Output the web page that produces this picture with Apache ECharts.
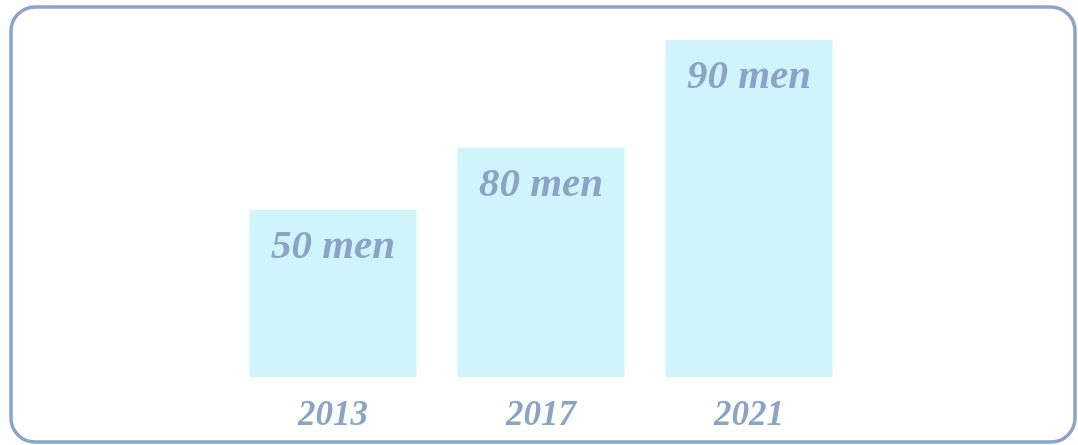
<!DOCTYPE html>
<html>
<head>
<meta charset="utf-8">
<script src="https://cdn.jsdelivr.net/npm/echarts@6/dist/echarts.min.js"></script>
<style>
  html, body { margin: 0; padding: 0; background: #fff; }
  #chart { width: 1078px; height: 445px; }
</style>
</head>
<body>
<div id="chart"></div>
<script>
// data
const years = ['2013', '2017', '2021'];
const barHeights = [44.6, 61.2, 90];   // bar lengths as drawn
const menCount = [50, 80, 90];         // numbers written on the bars

const ink = '#8aa4c8';
const font = 'Liberation Serif';

let myChart = echarts.init(document.getElementById('chart'));
myChart.setOption({
  animation: false,
  grid: { left: 229, right: 225, top: 2.6, bottom: 68 },
  xAxis: {
    type: 'category',
    data: years,
    axisLine: { show: false },
    axisTick: { show: false },
    axisLabel: {
      margin: 21,
      color: ink,
      fontSize: 35,
      fontWeight: 'bold',
      fontStyle: 'italic',
      fontFamily: font
    }
  },
  yAxis: {
    type: 'value',
    min: 0,
    max: 100,
    show: false,
    splitLine: { show: false }
  },
  graphic: [
    {
      // frame round the chart
      type: 'rect',
      shape: { x: 11, y: 7, width: 1064, height: 435, r: 24 },
      style: { fill: null, stroke: '#8aa4cc', lineWidth: 3.5 },
      z: 10
    }
  ],
  series: [
    {
      type: 'bar',
      data: barHeights,
      barWidth: 167,
      itemStyle: { color: '#d0f4fc' },
      label: {
        show: true,
        position: 'insideTop',
        distance: 17,
        formatter: function (p) { return menCount[p.dataIndex] + ' men'; },
        color: ink,
        fontSize: 41,
        fontWeight: 'bold',
        fontStyle: 'italic',
        fontFamily: font
      }
    }
  ]
});
</script>
</body>
</html>
